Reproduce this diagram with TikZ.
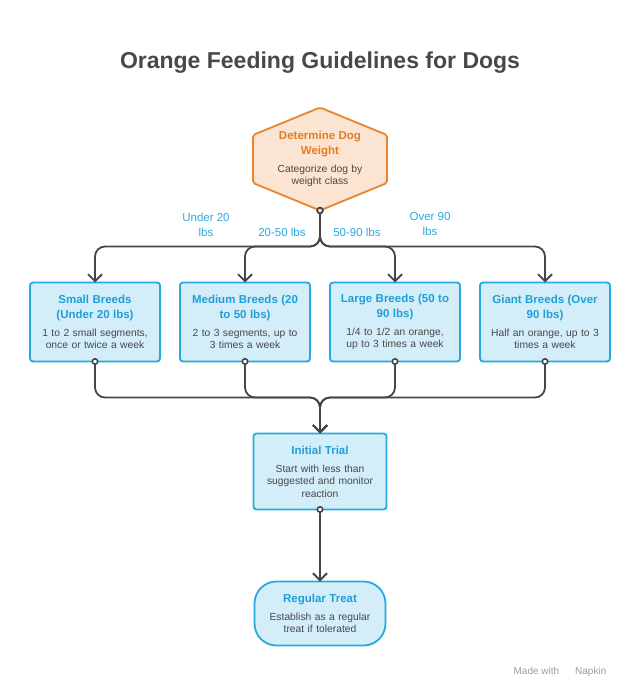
\documentclass[tikz,border=0pt]{standalone}
\usepackage{fontspec}
\setmainfont{Liberation Sans}
\usepackage{xcolor}
\usepackage{tikz}
\usetikzlibrary{arrows.meta, positioning, backgrounds}

\definecolor{hexFill}{HTML}{FBE4D1}
\definecolor{hexLine}{HTML}{E8852C}
\definecolor{hexTitle}{HTML}{E27D25}
\definecolor{boxFill}{HTML}{D3EEF9}
\definecolor{boxLine}{HTML}{27A9E0}
\definecolor{boxTitle}{HTML}{1F9FD9}
\definecolor{textGray}{HTML}{484848}
\definecolor{lineGray}{HTML}{464646}
\definecolor{labelBlue}{HTML}{2AA8DF}
\definecolor{markGray}{HTML}{9C9C9C}

\newcommand{\steptitle}[2]{{\color{#1}\bfseries\fontsize{11.5}{15}\selectfont #2\par}\vspace{5.5pt}}

\begin{document}
\begin{tikzpicture}[
      x=1pt, y=-1pt,
      stepbox/.style={
        rectangle,
        rounded corners=3pt,
        minimum width=130pt,
        minimum height=79pt,
        text width=124pt,
        align=center,
        inner sep=0pt,
        outer sep=0pt,
        draw=boxLine,
        line width=1.8pt,
        fill=boxFill,
        text=textGray,
        font=\fontsize{10.3}{12.5}\selectfont
      },
      endbox/.style={
        stepbox,
        rounded corners=22pt,
        minimum width=131pt,
        minimum height=64pt
      },
      hexnode/.style={
        text width=120pt,
        align=center,
        inner sep=0pt,
        text=textGray,
        font=\fontsize{10.3}{12.5}\selectfont
      },
      hexshape/.style={
        draw=hexLine,
        fill=hexFill,
        line width=1.8pt,
        rounded corners=2pt
      },
      edgelabel/.style={
        text=labelBlue,
        align=center,
        font=\fontsize{11.5}{15}\selectfont
      },
      arrow/.style={
        draw=lineGray,
        line width=1.8pt,
        rounded corners=10pt,
        shorten <=-3.5pt,
        arrows={Circle[fill=white, length=7pt, line width=1.6pt]-Straight Barb[length=7pt, width=14pt, line width=1.8pt]}
      },
      node distance=72pt and 20pt
    ]
    \useasboundingbox (0,0) rectangle (640,700);

    % Title
    \node (chartTitle) at (320,63) [text=textGray, font=\bfseries\fontsize{23}{27}\selectfont] {Orange Feeding Guidelines for Dogs};

    % Weight Node
    \node (weightHex) at (320,159) [hexnode] {\steptitle{hexTitle}{Determine Dog\\Weight}Categorize dog by\\weight class};
    \begin{scope}[on background layer]
      \filldraw [hexshape] ([shift={(-67pt,24pt)}]weightHex.center) -- ([yshift=51.5pt]weightHex.center) -- ([shift={(67pt,24pt)}]weightHex.center) -- ([shift={(67pt,-24pt)}]weightHex.center) -- ([yshift=-51.5pt]weightHex.center) -- ([shift={(-67pt,-24pt)}]weightHex.center) -- cycle;
    \end{scope}
    \coordinate (hexTip) at ([yshift=-51.5pt]weightHex.center);
    \coordinate (splitPoint) at ([yshift=-36pt]hexTip);

    % Breed Nodes
    \node (smallBox) [stepbox, below=72pt of hexTip, xshift=-225pt] {\steptitle{boxTitle}{Small Breeds\\(Under 20 lbs)}1 to 2 small segments,\\once or twice a week};
    \node (mediumBox) [stepbox, right=of smallBox] {\steptitle{boxTitle}{Medium Breeds (20\\to 50 lbs)}2 to 3 segments, up to\\3 times a week};
    \node (largeBox) [stepbox, right=of mediumBox] {\steptitle{boxTitle}{Large Breeds (50 to\\90 lbs)}1/4 to 1/2 an orange,\\up to 3 times a week};
    \node (giantBox) [stepbox, right=of largeBox] {\steptitle{boxTitle}{Giant Breeds (Over\\90 lbs)}Half an orange, up to 3\\times a week};

    % Edge Labels
    \node (labelSmall) at (206,224.5) [edgelabel] {Under 20\\lbs};
    \node (labelMedium) at (282,232) [edgelabel] {20-50 lbs};
    \node (labelLarge) at (357,232) [edgelabel] {50-90 lbs};
    \node (labelGiant) at (430,224.5) [edgelabel] {Over 90\\lbs};

    % Trial Nodes
    \node (initialTrial) [stepbox, minimum width=133pt, minimum height=76pt, below=72pt of mediumBox.south east, xshift=10pt] {\steptitle{boxTitle}{Initial Trial}Start with less than\\suggested and monitor\\reaction};
    \node (regularTreat) [endbox, below=of initialTrial] {\steptitle{boxTitle}{Regular Treat}Establish as a regular\\treat if tolerated};
    \coordinate (mergePoint) at ([yshift=36pt]initialTrial.north);

    % Watermark
    \node (madeWith) at (560,672) [text=markGray, font=\fontsize{10}{12}\selectfont] {Made with\hspace{16pt}Napkin};

    % Arrows for Breeds
    \draw [arrow] (hexTip) -- (splitPoint) -| (smallBox.north);
    \draw [arrow] (hexTip) -- (splitPoint) -| (mediumBox.north);
    \draw [arrow] (hexTip) -- (splitPoint) -| (largeBox.north);
    \draw [arrow] (hexTip) -- (splitPoint) -| (giantBox.north);

    % Arrows for Trial
    \draw [arrow] (smallBox.south) |- (mergePoint) -- (initialTrial.north);
    \draw [arrow] (mediumBox.south) |- (mergePoint) -- (initialTrial.north);
    \draw [arrow] (largeBox.south) |- (mergePoint) -- (initialTrial.north);
    \draw [arrow] (giantBox.south) |- (mergePoint) -- (initialTrial.north);
    \draw [arrow] (initialTrial.south) -- (regularTreat.north);

    \end{tikzpicture}
\end{document}
